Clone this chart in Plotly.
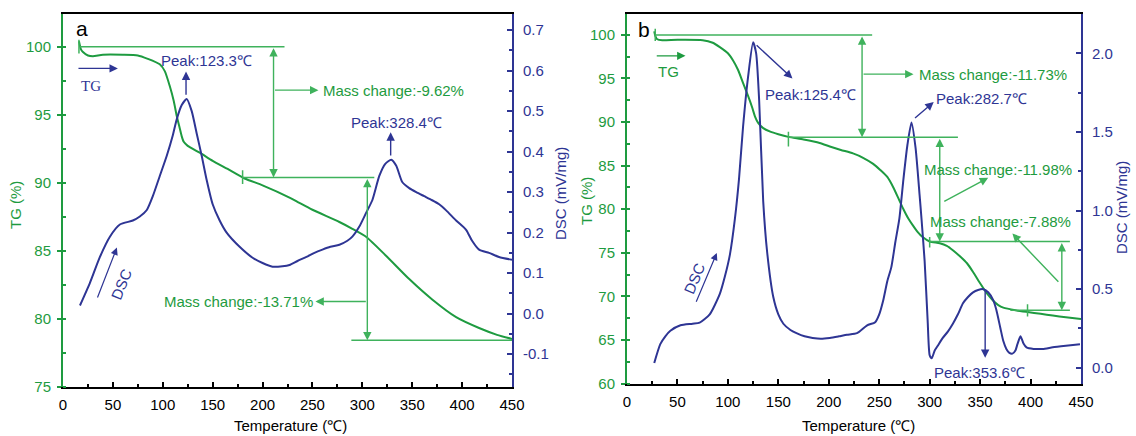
import plotly.graph_objects as go

GREEN = "#1e9b40"
GREEN_L = "#3fb25c"
BLUE = "#2e3594"
FONT = "Liberation Sans, Arial, sans-serif"

# ---------------- data ----------------
# Panel a
tg_a_T = [16, 18, 20, 25, 30, 40, 60, 75, 85, 97, 102, 107, 111, 114, 117, 119, 121, 125, 137,
          150, 165, 182, 200, 227, 237, 250, 277, 290, 304, 324, 347, 370, 394, 417, 435, 450]
tg_a_V = [100.4, 99.8, 99.6, 99.35, 99.3, 99.4, 99.4, 99.35, 99.1, 98.7, 98.2, 97.1, 96.0, 94.9,
          94.0, 93.4, 93.0, 92.7, 92.2, 91.6, 91.0, 90.3, 89.8, 88.9, 88.5, 88.0, 87.1, 86.6, 86.0,
          84.6, 82.9, 81.4, 80.1, 79.3, 78.8, 78.5]

dsc_a_T = [17, 27, 37, 47, 57, 70, 77, 84, 90, 97, 104, 110, 114, 119, 124, 129, 134, 139, 144,
           150, 157, 164, 177, 190, 200, 210, 220, 227, 235, 244, 252, 260, 268, 277, 285, 290,
           297, 304, 310, 317, 323, 329, 334, 340, 347, 354, 362, 370, 377, 384, 394, 404, 410,
           417, 427, 437, 450]
dsc_a_V = [0.02, 0.076, 0.14, 0.19, 0.22, 0.23, 0.24, 0.256, 0.29, 0.34, 0.39, 0.44, 0.48, 0.515,
           0.53, 0.50, 0.445, 0.39, 0.33, 0.27, 0.23, 0.20, 0.165, 0.138, 0.125, 0.116, 0.117,
           0.12, 0.13, 0.14, 0.15, 0.158, 0.165, 0.17, 0.18, 0.19, 0.215, 0.25, 0.28, 0.34, 0.37,
           0.38, 0.365, 0.325, 0.31, 0.30, 0.29, 0.28, 0.27, 0.255, 0.23, 0.207, 0.18, 0.158,
           0.15, 0.14, 0.133]

# Panel b
tg_b_T = [27, 28, 30, 35, 50, 75, 85, 92, 100, 105, 110, 115, 120, 124, 127, 130, 135, 142, 150,
          160, 175, 191, 201, 212, 224, 234, 244, 251, 258, 264, 270, 274, 279, 283, 288, 293,
          300, 310, 317, 323, 330, 337, 343, 350, 357, 363, 368, 373, 385, 397, 410, 422, 435, 450]
tg_b_V = [100.4, 99.9, 99.5, 99.4, 99.45, 99.4, 99.1, 98.6, 97.9, 97.1, 96.0, 94.5, 93.0, 91.7,
          90.6, 89.9, 89.3, 88.9, 88.6, 88.3, 88.0, 87.6, 87.2, 86.8, 86.4, 85.9, 85.2, 84.5,
          83.7, 82.5, 81.0, 80.0, 78.9, 78.2, 77.4, 76.8, 76.3, 76.1, 75.8, 75.3, 74.6, 73.8,
          72.8, 71.5, 70.3, 69.5, 69.0, 68.7, 68.4, 68.2, 68.0, 67.8, 67.6, 67.4]

dsc_b_T = [27, 33, 38, 43, 53, 65, 72, 82, 92, 97, 102, 107, 111, 115, 120, 125, 128, 131, 135,
           139, 145, 150, 155, 162, 168, 176, 184, 192, 201, 210, 218, 228, 238, 246, 250, 254,
           258, 262, 266, 270, 274, 278, 282, 286, 290, 292, 295, 298, 300, 302, 305, 308, 313,
           318, 323, 328, 333, 338, 343, 348, 353, 358, 363, 366, 370, 373, 376, 379, 382, 385,
           387, 390, 393, 396, 403, 412, 422, 435, 449]
dsc_b_V = [0.03, 0.15, 0.20, 0.235, 0.27, 0.28, 0.287, 0.34, 0.47, 0.58, 0.72, 0.95, 1.20, 1.53,
           1.85, 2.07, 2.00, 1.70, 1.06, 0.73, 0.45, 0.34, 0.28, 0.24, 0.22, 0.20, 0.19, 0.185,
           0.19, 0.20, 0.21, 0.22, 0.27, 0.29, 0.34, 0.43, 0.55, 0.64, 0.80, 0.95, 1.20, 1.42,
           1.56, 1.40, 1.10, 0.94, 0.68, 0.30, 0.08, 0.06, 0.11, 0.14, 0.19, 0.23, 0.28, 0.34,
           0.41, 0.45, 0.48, 0.495, 0.50, 0.48, 0.43, 0.37, 0.255, 0.17, 0.12, 0.095, 0.09, 0.11,
           0.15, 0.20, 0.155, 0.13, 0.12, 0.12, 0.13, 0.14, 0.15]

# tick labels
x_ticks = [0, 50, 100, 150, 200, 250, 300, 350, 400, 450]
x_labels = [str(v) for v in x_ticks]
tg_a_ticks = [75, 80, 85, 90, 95, 100]
tg_b_ticks = [60, 65, 70, 75, 80, 85, 90, 95, 100]
dsc_a_ticks = [-0.1, 0.0, 0.1, 0.2, 0.3, 0.4, 0.5, 0.6, 0.7]
dsc_a_labels = ["-0.1", "0.0", "0.1", "0.2", "0.3", "0.4", "0.5", "0.6", "0.7"]
dsc_b_ticks = [0.0, 0.5, 1.0, 1.5, 2.0]
dsc_b_labels = ["0.0", "0.5", "1.0", "1.5", "2.0"]

# mass-change steps
mass_a = [9.62, 13.71]
mass_b = [11.73, 11.98, 7.88]
peaks_a = ["Peak:123.3℃", "Peak:328.4℃"]
peaks_b = ["Peak:125.4℃", "Peak:282.7℃", "Peak:353.6℃"]

# ---------------- figure ----------------
W, H = 1136, 436
def px_x(p): return p / W
def px_y(p): return 1 - p / H

fig = go.Figure()
line_kw = dict(shape="spline", smoothing=0.6, width=2)
fig.add_trace(go.Scatter(x=tg_a_T, y=tg_a_V, mode="lines", line=dict(color=GREEN, **line_kw),
                         xaxis="x", yaxis="y", showlegend=False))
fig.add_trace(go.Scatter(x=dsc_a_T, y=dsc_a_V, mode="lines", line=dict(color=BLUE, **line_kw),
                         xaxis="x", yaxis="y2", showlegend=False))
fig.add_trace(go.Scatter(x=tg_b_T, y=tg_b_V, mode="lines", line=dict(color=GREEN, **line_kw),
                         xaxis="x2", yaxis="y3", showlegend=False))
fig.add_trace(go.Scatter(x=dsc_b_T, y=dsc_b_V, mode="lines", line=dict(color=BLUE, **line_kw),
                         xaxis="x2", yaxis="y4", showlegend=False))

TICK = 15

def xax(domain, anchor):
    return dict(domain=domain, anchor=anchor, range=[0, 450], tickmode="array",
                tickvals=x_ticks, ticktext=x_labels, showline=True, linecolor="black",
                linewidth=1.6, mirror=True, ticks="inside", ticklen=5, tickwidth=1.5,
                tickcolor="black", minor=dict(dtick=25, tick0=0, ticks="inside", ticklen=3,
                                               tickwidth=1.5, tickcolor="black"),
                tickfont=dict(family=FONT, size=TICK, color="black"), showgrid=False,
                zeroline=False, ticklabelstandoff=4, automargin=False)

def yleft(domain, anchor, rng, ticks):
    return dict(domain=domain, anchor=anchor, range=rng, tickmode="array", tickvals=ticks,
                showline=True, linecolor=GREEN, linewidth=2, ticks="outside", ticklen=4,
                tickwidth=1.5, tickcolor=GREEN,
                minor=dict(dtick=2.5, tick0=0, ticks="inside", ticklen=3, tickwidth=1.5,
                           tickcolor=GREEN),
                tickfont=dict(family=FONT, size=TICK, color=GREEN), showgrid=False,
                zeroline=False, ticklabelstandoff=3, automargin=False)

def yright(over, anchor, rng, ticks, labels, mdt):
    return dict(overlaying=over, side="right", anchor=anchor, range=rng, tickmode="array",
                tickvals=ticks, ticktext=labels, showline=True, linecolor=BLUE, linewidth=2,
                ticks="inside", ticklen=5, tickwidth=1.5, tickcolor=BLUE,
                minor=dict(dtick=mdt, tick0=0, ticks="inside", ticklen=3, tickwidth=1.5,
                           tickcolor=BLUE),
                tickfont=dict(family=FONT, size=TICK, color=BLUE), showgrid=False,
                zeroline=False, ticklabelstandoff=6, automargin=False)

fig.update_layout(
    width=W, height=H, margin=dict(l=0, r=0, t=0, b=0, autoexpand=False),
    paper_bgcolor="white", plot_bgcolor="white",
    xaxis=xax([px_x(63), px_x(512)], "y"),
    yaxis=yleft([px_y(386.5), px_y(14)], "x", [75, 102.4], tg_a_ticks),
    yaxis2=yright("y", "x", [-0.18, 0.74], dsc_a_ticks, dsc_a_labels, 0.05),
    xaxis2=xax([px_x(627), px_x(1081)], "y3"),
    yaxis3=yleft([px_y(383.5), px_y(14)], "x2", [60, 102.4], tg_b_ticks),
    yaxis4=yright("y3", "x2", [-0.10, 2.25], dsc_b_ticks, dsc_b_labels, 0.25),
)

shapes = []
def seg(xr, yr, x0, y0, x1, y1, color=GREEN_L, w=1.5):
    shapes.append(dict(type="line", xref=xr, yref=yr, x0=x0, y0=y0, x1=x1, y1=y1,
                       line=dict(color=color, width=w)))

ann = []
def arrow(xr, yr, x0, y0, x1, y1, color=GREEN_L, both=False, w=1.4):
    ann.append(dict(xref=xr, yref=yr, axref=xr, ayref=yr, x=x1, y=y1, ax=x0, ay=y0,
                    text="", showarrow=True, arrowcolor=color, arrowwidth=w, arrowhead=2,
                    arrowsize=1.2, startarrowhead=2, startarrowsize=1.2,
                    arrowside="end+start" if both else "end", standoff=0, startstandoff=0))

def text(xr, yr, x, y, t, color, anchor="left", size=15, fam=FONT, angle=0):
    ann.append(dict(xref=xr, yref=yr, x=x, y=y, text=t, showarrow=False, xanchor=anchor,
                    yanchor="middle", textangle=angle,
                    font=dict(family=fam, size=size, color=color)))

# ---- panel a, TG annotations ----
lvl_a1 = 100 - mass_a[0]
seg("x", "y", 17, 100, 222, 100)
seg("x", "y", 16, 99.5, 16, 100.5)
seg("x", "y", 180, lvl_a1, 312, lvl_a1)
seg("x", "y", 180, 89.9, 180, 90.9)
seg("x", "y", 289, 78.4, 450, 78.4)
arrow("x", "y", 211, 100, 211, lvl_a1, both=True)
arrow("x", "y", 211, 96.8, 256, 96.8)
text("x", "y", 259, 96.8, f"Mass change:-{mass_a[0]:.2f}%", GREEN)
arrow("x", "y", 305, lvl_a1, 305, 78.4, both=True)
arrow("x", "y", 305, 81.25, 253, 81.25)
text("x", "y", 253, 81.25, f"Mass change:-{mass_a[1]:.2f}%", GREEN, anchor="right")

# ---- panel a, DSC / TG markers ----
arrow("x", "y", 14, 98.4, 55, 98.4, color=BLUE)
text("x", "y", 28, 97.1, "TG", BLUE, anchor="center", fam="Liberation Serif, Times New Roman, serif")
arrow("x", "y2", 123.3, 0.537, 123.3, 0.598, color=BLUE)
text("x", "y2", 96, 0.626, peaks_a[0], BLUE)
arrow("x", "y2", 328.4, 0.387, 328.4, 0.448, color=BLUE)
text("x", "y2", 287, 0.473, peaks_a[1], BLUE)
arrow("x", "y2", 34, 0.036, 54, 0.163, color=BLUE, w=1.2)
text("x", "y2", 58, 0.073, "DSC", BLUE, anchor="center", angle=-68)

# ---- panel b, TG annotations ----
lvl_b1 = 100 - mass_b[0]
lvl_b2 = lvl_b1 - mass_b[1]
lvl_b3 = lvl_b2 - mass_b[2]
seg("x2", "y3", 28, 100, 243, 100)
seg("x2", "y3", 28, 99.3, 28, 100.7)
seg("x2", "y3", 160, lvl_b1, 328, lvl_b1)
seg("x2", "y3", 160, 87.2, 160, 88.9)
seg("x2", "y3", 300, lvl_b2, 439, lvl_b2)
seg("x2", "y3", 300, 75.6, 300, 76.8)
seg("x2", "y3", 380, lvl_b3, 439, lvl_b3)
seg("x2", "y3", 397, 67.7, 397, 69.1)
arrow("x2", "y3", 233, 100, 233, lvl_b1, both=True)
arrow("x2", "y3", 233, 95.5, 284, 95.5)
text("x2", "y3", 287, 95.5, f"Mass change:-{mass_b[0]:.2f}%", GREEN)
arrow("x2", "y3", 310, lvl_b1, 310, lvl_b2, both=True)
arrow("x2", "y3", 313, 80.8, 358, 83.6)
text("x2", "y3", 292, 84.6, f"Mass change:-{mass_b[1]:.2f}%", GREEN)
arrow("x2", "y3", 431, lvl_b2, 431, lvl_b3, both=True)
arrow("x2", "y3", 429, 71.5, 382, 77.2)
text("x2", "y3", 298, 78.6, f"Mass change:-{mass_b[2]:.2f}%", GREEN)

# ---- panel b, DSC / TG markers ----
arrow("x2", "y3", 28, 97.6, 58, 97.6, color=GREEN)
text("x2", "y3", 41, 95.8, "TG", GREEN, anchor="center")
arrow("x2", "y4", 127, 2.06, 164, 1.84, color=BLUE)
text("x2", "y4", 135, 1.735, peaks_b[0], BLUE)
arrow("x2", "y4", 284, 1.58, 304, 1.69, color=BLUE)
text("x2", "y4", 304, 1.71, peaks_b[1], BLUE)
arrow("x2", "y4", 355, 0.50, 355, 0.063, color=BLUE)
text("x2", "y4", 302, -0.027, peaks_b[2], BLUE)
arrow("x2", "y4", 68, 0.41, 89, 0.73, color=BLUE, w=1.2)
text("x2", "y4", 67, 0.565, "DSC", BLUE, anchor="center", angle=-67)

# ---- axis titles and panel letters (paper) ----
def ptext(xp, yp, t, color, size=15, angle=0, yanchor="middle"):
    ann.append(dict(xref="paper", yref="paper", x=px_x(xp), y=px_y(yp), text=t,
                    showarrow=False, xanchor="center", yanchor=yanchor, textangle=angle,
                    font=dict(family=FONT, size=size, color=color)))

ptext(15, 205, "TG (%)", GREEN, angle=-90)
ptext(560, 194, "DSC (mV/mg)", BLUE, angle=-90)
ptext(586, 201, "TG (%)", GREEN, angle=-90)
ptext(1121, 208, "DSC (mV/mg)", BLUE, angle=-90)
ptext(290, 435.5, "Temperature (℃)", "black", yanchor="bottom")
ptext(858, 435.5, "Temperature (℃)", "black", yanchor="bottom")
ptext(82, 29, "a", "black", size=21)
ptext(644, 29.5, "b", "black", size=21)

fig.update_layout(shapes=shapes, annotations=ann)
fig.write_html("out.html", config={"displayModeBar": False},
               post_script="document.body.style.margin='0px';document.body.style.overflow='hidden';")
